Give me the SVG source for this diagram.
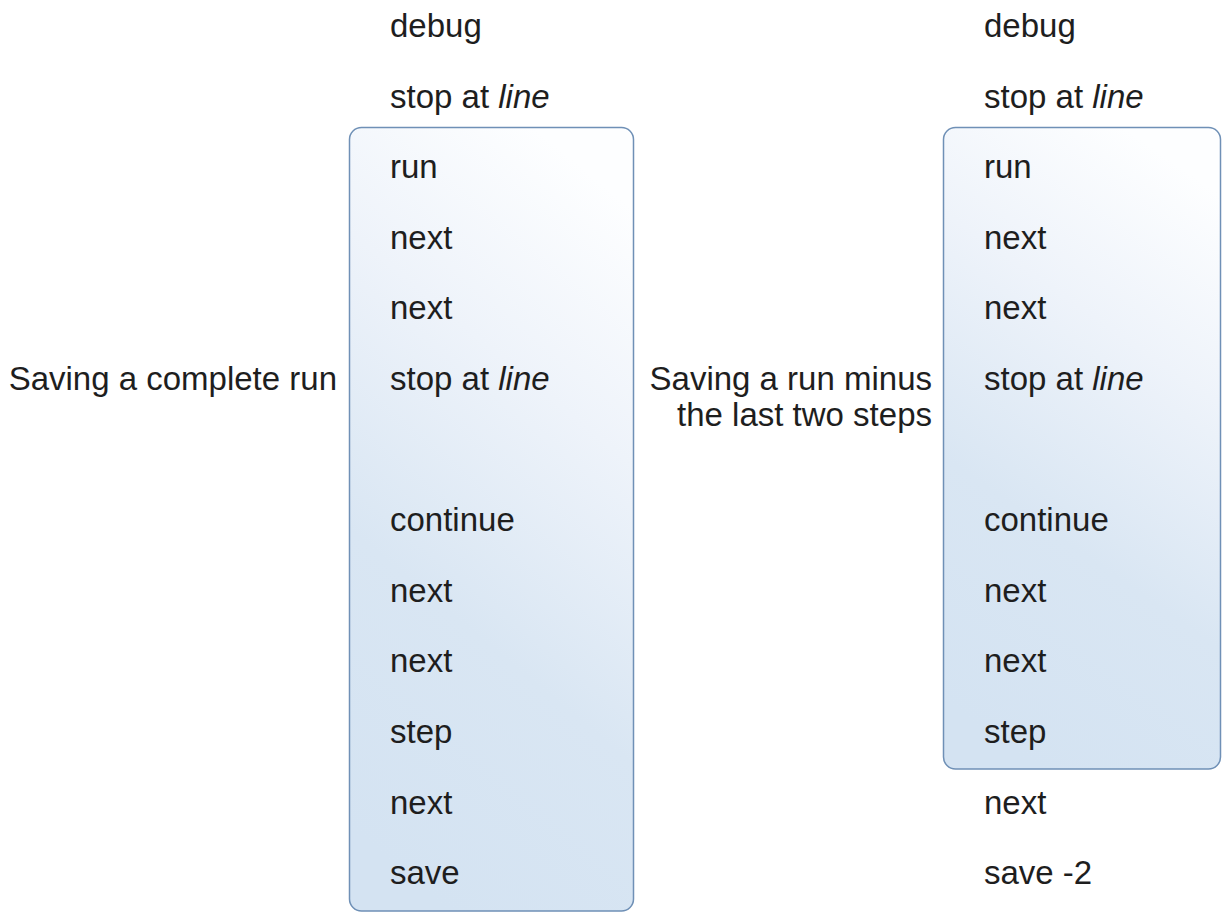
<svg xmlns="http://www.w3.org/2000/svg" width="1222" height="913" viewBox="0 0 1222 913">
<style>
text{font-family:"Liberation Sans",Arial,sans-serif;font-size:33px;fill:#1e1e1e}
.r{text-anchor:end}
.box{fill:url(#g);stroke:#6f90b6;stroke-width:1.5}
</style>
<defs>
<linearGradient id="g" x1="0.65" y1="0" x2="0.35" y2="1">
<stop offset="0" stop-color="#fdfeff"/>
<stop offset="0.3" stop-color="#eef3fa"/>
<stop offset="0.65" stop-color="#d9e6f3"/>
<stop offset="1" stop-color="#d4e3f2"/>
</linearGradient>
</defs>
<rect width="1222" height="913" fill="#ffffff"/>
<g id="left-box"><rect class="box" x="349.5" y="127.5" width="284" height="783.5" rx="12"/></g>
<g id="right-box"><rect class="box" x="943.5" y="127.5" width="277" height="641.5" rx="12"/></g>
<g id="connectors"/>
<g id="left-col">
<text x="390" y="37">debug</text>
<text x="390" y="107.6">stop at <tspan font-style="italic">line</tspan></text>
<text x="390" y="178">run</text>
<text x="390" y="248.8">next</text>
<text x="390" y="319.4">next</text>
<text x="390" y="390">stop at <tspan font-style="italic">line</tspan></text>
<text x="390" y="531.2">continue</text>
<text x="390" y="601.8">next</text>
<text x="390" y="672.4">next</text>
<text x="390" y="743">step</text>
<text x="390" y="813.6">next</text>
<text x="390" y="884">save</text>
</g>
<g id="right-col">
<text x="984" y="37">debug</text>
<text x="984" y="107.6">stop at <tspan font-style="italic">line</tspan></text>
<text x="984" y="178">run</text>
<text x="984" y="248.8">next</text>
<text x="984" y="319.4">next</text>
<text x="984" y="390">stop at <tspan font-style="italic">line</tspan></text>
<text x="984" y="531.2">continue</text>
<text x="984" y="601.8">next</text>
<text x="984" y="672.4">next</text>
<text x="984" y="743">step</text>
<text x="984" y="813.6">next</text>
<text x="984" y="884">save -2</text>
</g>
<g id="label-left"><text class="r" x="337" y="390">Saving a complete run</text></g>
<g id="label-right">
<text class="r" x="932" y="390">Saving a run minus</text>
<text class="r" x="932" y="426">the last two steps</text>
</g>
</svg>
